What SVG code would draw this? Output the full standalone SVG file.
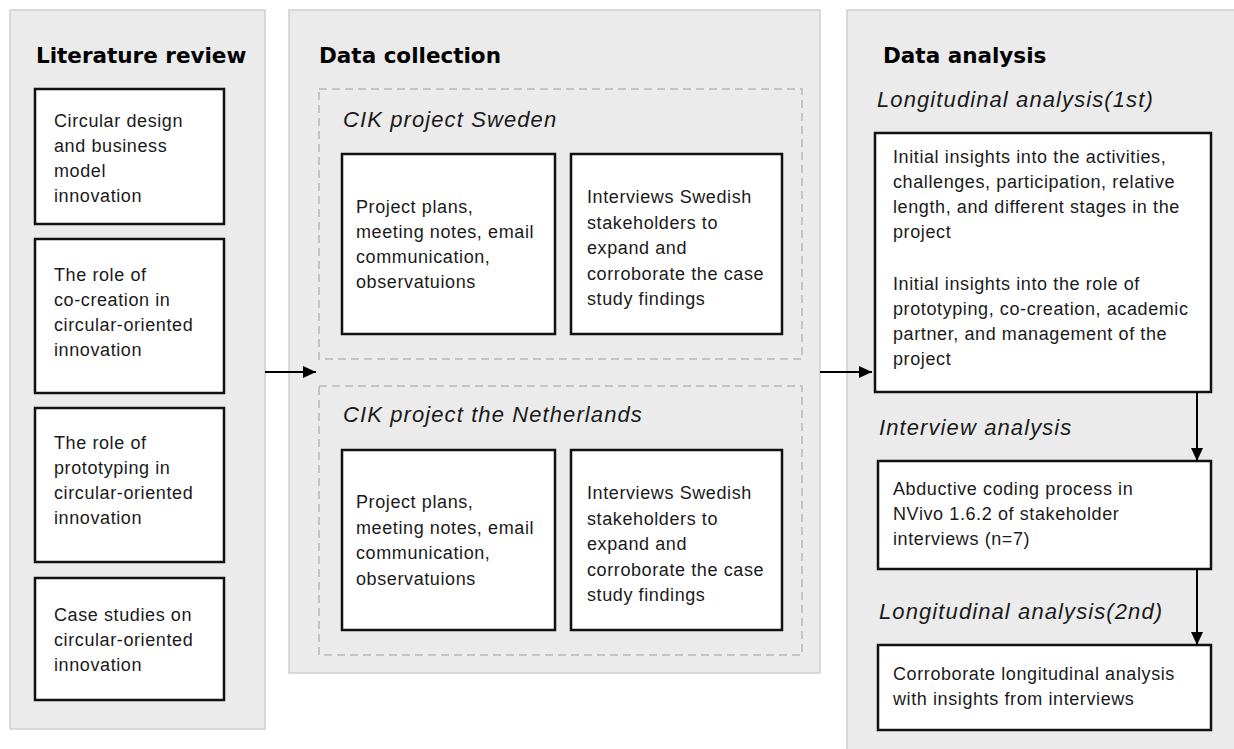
<svg xmlns="http://www.w3.org/2000/svg" width="1234" height="749" viewBox="0 0 1234 749">
  <style>
    .panel { fill: #ebebeb; stroke: #cfcfcf; stroke-width: 1.5; }
    .group { fill: none; stroke: #c4c4c4; stroke-width: 2; stroke-dasharray: 8 5; }
    .box { fill: #ffffff; stroke: #111111; stroke-width: 2.5; }
    .title { font-family: "DejaVu Sans", "Liberation Sans", sans-serif; font-weight: bold; font-size: 21.5px; fill: #000000; }
    .sub { font-family: "Liberation Sans", Arial, sans-serif; font-style: italic; font-size: 22px; letter-spacing: 1.1px; fill: #1a1a1a; }
    .body { font-family: "Liberation Sans", Arial, sans-serif; font-size: 18px; letter-spacing: 0.6px; fill: #1a1a1a; }
    .conn { stroke: #000000; stroke-width: 2; fill: none; }
  </style>
  <defs>
    <marker id="arrow" markerUnits="userSpaceOnUse" markerWidth="14" markerHeight="12" refX="13" refY="6" orient="auto">
      <polygon points="0,0 13,6 0,12" fill="#000000"/>
    </marker>
  </defs>

  <!-- column panels -->
  <g id="panel-literature">
    <rect class="panel" x="10" y="10" width="255" height="719"/>
    <text class="title" x="36" y="63">Literature review</text>
  </g>
  <g id="panel-collection">
    <rect class="panel" x="289" y="10" width="531" height="663"/>
    <text class="title" x="319" y="63">Data collection</text>
  </g>
  <g id="panel-analysis">
    <rect class="panel" x="847" y="10" width="400" height="760"/>
    <text class="title" x="883" y="63">Data analysis</text>
  </g>

  <!-- literature review topics -->
  <g id="lit-1">
    <rect class="box" x="35" y="89" width="189" height="135"/>
    <text class="body" x="54" y="127">Circular design</text>
    <text class="body" x="54" y="152">and business</text>
    <text class="body" x="54" y="177">model</text>
    <text class="body" x="54" y="202">innovation</text>
  </g>
  <g id="lit-2">
    <rect class="box" x="35" y="239" width="189" height="154"/>
    <text class="body" x="54" y="281">The role of</text>
    <text class="body" x="54" y="306">co-creation in</text>
    <text class="body" x="54" y="331">circular-oriented</text>
    <text class="body" x="54" y="356">innovation</text>
  </g>
  <g id="lit-3">
    <rect class="box" x="35" y="408" width="189" height="154"/>
    <text class="body" x="54" y="449">The role of</text>
    <text class="body" x="54" y="474">prototyping in</text>
    <text class="body" x="54" y="499">circular-oriented</text>
    <text class="body" x="54" y="524">innovation</text>
  </g>
  <g id="lit-4">
    <rect class="box" x="35" y="578" width="189" height="122"/>
    <text class="body" x="54" y="621">Case studies on</text>
    <text class="body" x="54" y="646">circular-oriented</text>
    <text class="body" x="54" y="671">innovation</text>
  </g>

  <!-- case: Sweden -->
  <g id="case-sweden">
    <rect class="group" x="319" y="89" width="483" height="270"/>
    <text class="sub" x="343" y="127">CIK project Sweden</text>
  </g>
  <g id="se-documents">
    <rect class="box" x="342" y="154" width="213" height="180"/>
    <text class="body" x="356" y="213">Project plans,</text>
    <text class="body" x="356" y="238">meeting notes, email</text>
    <text class="body" x="356" y="263">communication,</text>
    <text class="body" x="356" y="288">observatuions</text>
  </g>
  <g id="se-interviews">
    <rect class="box" x="571" y="154" width="211" height="180"/>
    <text class="body" x="587" y="203">Interviews Swedish</text>
    <text class="body" x="587" y="228.5">stakeholders to</text>
    <text class="body" x="587" y="254">expand and</text>
    <text class="body" x="587" y="279.5">corroborate the case</text>
    <text class="body" x="587" y="305">study findings</text>
  </g>

  <!-- case: the Netherlands -->
  <g id="case-netherlands">
    <rect class="group" x="319" y="386" width="483" height="269"/>
    <text class="sub" x="343" y="422">CIK project the Netherlands</text>
  </g>
  <g id="nl-documents">
    <rect class="box" x="342" y="450" width="213" height="180"/>
    <text class="body" x="356" y="508">Project plans,</text>
    <text class="body" x="356" y="533.5">meeting notes, email</text>
    <text class="body" x="356" y="559">communication,</text>
    <text class="body" x="356" y="584.5">observatuions</text>
  </g>
  <g id="nl-interviews">
    <rect class="box" x="571" y="450" width="211" height="180"/>
    <text class="body" x="587" y="499">Interviews Swedish</text>
    <text class="body" x="587" y="524.5">stakeholders to</text>
    <text class="body" x="587" y="550">expand and</text>
    <text class="body" x="587" y="575.5">corroborate the case</text>
    <text class="body" x="587" y="601">study findings</text>
  </g>

  <!-- analysis steps -->
  <g id="longitudinal-1">
    <text class="sub" x="877" y="107">Longitudinal analysis(1st)</text>
    <rect class="box" x="875" y="133" width="336" height="259"/>
    <text class="body" x="893" y="163">Initial insights into the activities,</text>
    <text class="body" x="893" y="188">challenges, participation, relative</text>
    <text class="body" x="893" y="213">length, and different stages in the</text>
    <text class="body" x="893" y="238">project</text>
    <text class="body" x="893" y="290">Initial insights into the role of</text>
    <text class="body" x="893" y="315">prototyping, co-creation, academic</text>
    <text class="body" x="893" y="340">partner, and management of the</text>
    <text class="body" x="893" y="365">project</text>
  </g>
  <g id="interview-analysis">
    <text class="sub" x="879" y="435">Interview analysis</text>
    <rect class="box" x="878" y="461" width="333" height="108"/>
    <text class="body" x="893" y="495">Abductive coding process in</text>
    <text class="body" x="893" y="520">NVivo 1.6.2 of stakeholder</text>
    <text class="body" x="893" y="545">interviews (n=7)</text>
  </g>
  <g id="longitudinal-2">
    <text class="sub" x="879" y="619">Longitudinal analysis(2nd)</text>
    <rect class="box" x="878" y="645" width="333" height="85"/>
    <text class="body" x="893" y="680">Corroborate longitudinal analysis</text>
    <text class="body" x="893" y="705">with insights from interviews</text>
  </g>

  <!-- connectors -->
  <g id="connectors">
    <path class="conn" d="M265,372 H316" marker-end="url(#arrow)"/>
    <path class="conn" d="M820,372 H872" marker-end="url(#arrow)"/>
    <path class="conn" d="M1197,392 V461" marker-end="url(#arrow)"/>
    <path class="conn" d="M1197,569 V645" marker-end="url(#arrow)"/>
  </g>
</svg>
